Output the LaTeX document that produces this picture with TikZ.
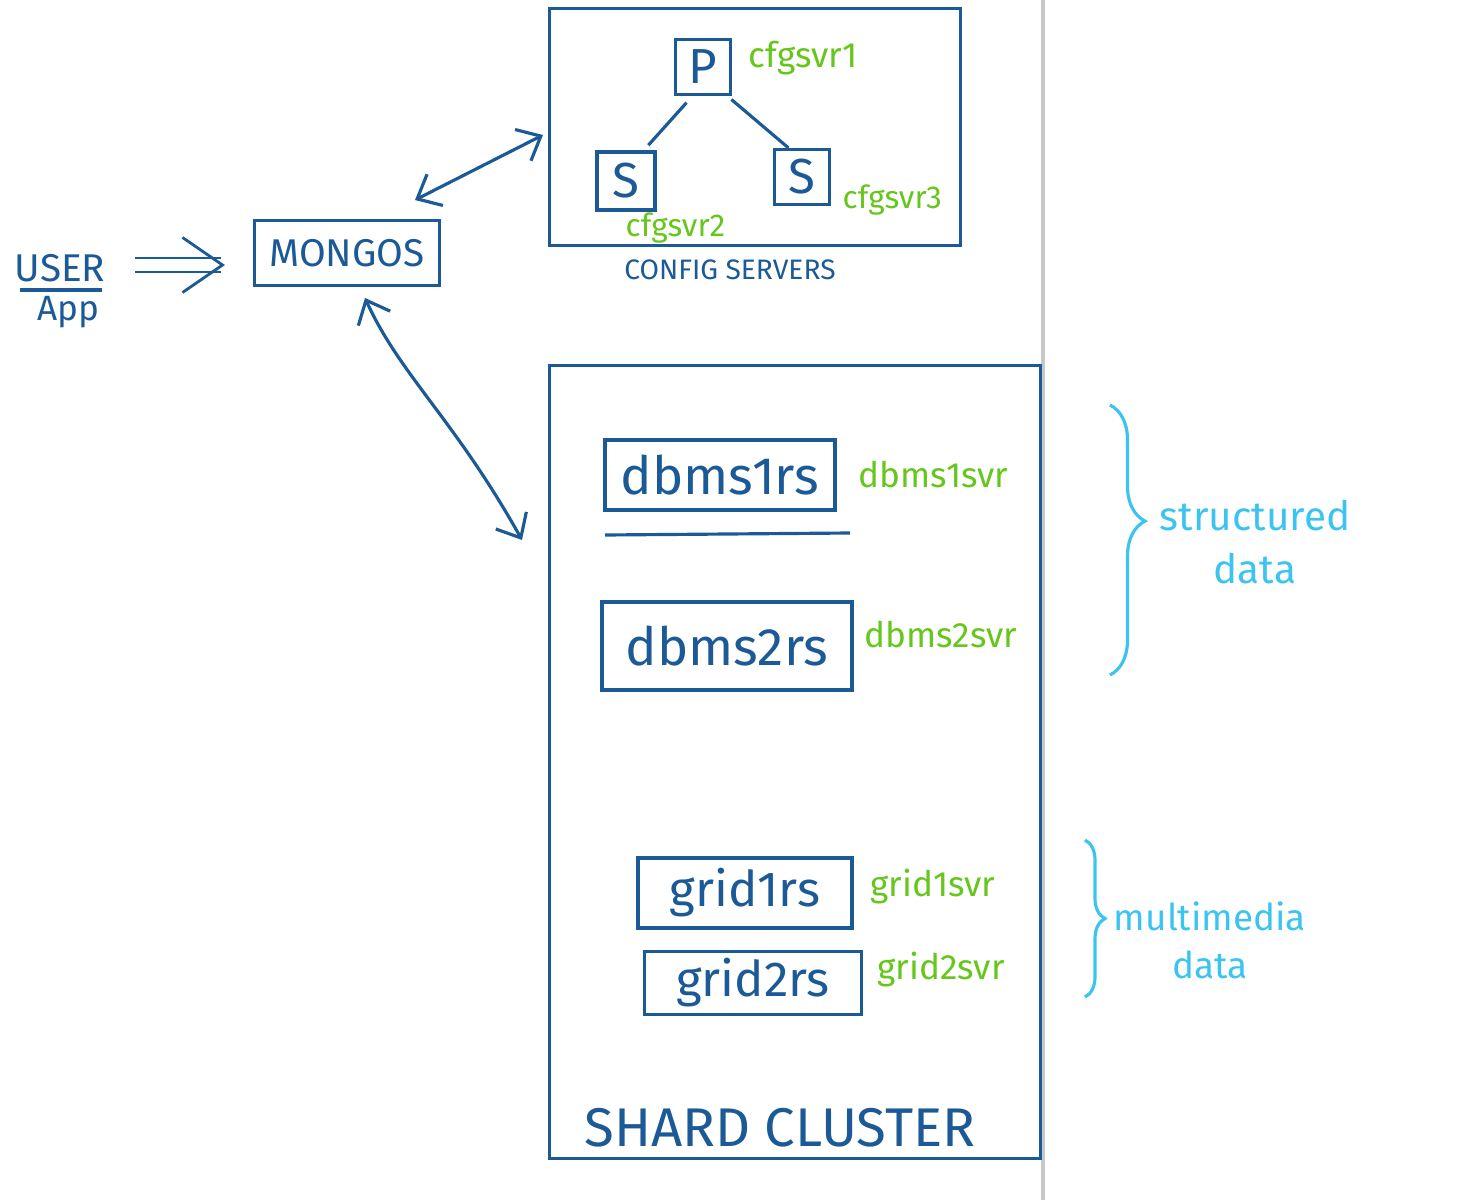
\documentclass[tikz,border=0pt]{standalone}
\usepackage{fontspec}
\setmainfont{Fira Sans}
\usetikzlibrary{arrows.meta,decorations.pathreplacing}
\definecolor{inkblue}{HTML}{1B5A96}
\definecolor{svrgreen}{HTML}{66C61C}
\definecolor{datacyan}{HTML}{3CC4F0}
\definecolor{rulegray}{HTML}{C8C8C8}
\tikzset{
  srvbox/.style={draw=inkblue, line width=0.9pt, text=inkblue, inner sep=0pt},
  svrlabel/.style={text=svrgreen, anchor=west, inner sep=0pt, font=\fontsize{10}{12}\selectfont},
  inklabel/.style={text=inkblue, inner sep=1pt},
  link/.style={draw=inkblue, line width=0.9pt, {Straight Barb[length=2mm,width=3.5mm]}-{Straight Barb[length=2mm,width=3.5mm]}},
  databrace/.style={draw=datacyan, line width=0.9pt, decorate},
  datalabel/.style={text=datacyan, align=center}
}
\begin{document}
\begin{tikzpicture}[x=0.01cm, y=-0.01cm]
  \useasboundingbox (0,0) rectangle (1478,1200);
  \draw[rulegray, line width=1pt] (1043,0) -- (1043,1200);
  % user and router
  \node[inklabel, font=\fontsize{11}{13}\selectfont] (user) at (60,268) {USER};
  \node[inklabel, font=\fontsize{10}{12}\selectfont] (app) at (68,312) {App};
  \draw[inkblue, line width=0.9pt] (20,290) -- (102,290);
  \coordinate (userout) at (135,265);
  \coordinate (mongosin) at (225,265);
  \draw[inkblue, line width=0.8pt, double, double distance=1.1mm, -{Straight Barb[length=4mm,width=5.5mm]}] (userout) -- (mongosin);
  \node[srvbox, minimum width=1.85cm, minimum height=0.65cm, font=\fontsize{11}{13}\selectfont] (mongos) at (347,253) {MONGOS};
  % config servers
  \node[srvbox, minimum width=4.1cm, minimum height=2.37cm] (cfgbox) at (755,127) {};
  \node[inklabel, font=\fontsize{8}{10}\selectfont] (cfgname) at (730,270) {CONFIG SERVERS};
  \node[srvbox, minimum size=0.55cm, font=\fontsize{14}{16}\selectfont] (cfgP) at (703,67) {P};
  \node[srvbox, minimum size=0.58cm, font=\fontsize{14}{16}\selectfont] (cfgSa) at (626,181) {S};
  \node[srvbox, minimum size=0.55cm, font=\fontsize{14}{16}\selectfont] (cfgSb) at (802,177) {S};
  \node[svrlabel] at (748,58) {cfgsvr1};
  \node[svrlabel, font=\fontsize{9}{11}\selectfont] at (625,228) {cfgsvr2};
  \node[svrlabel, font=\fontsize{9}{11}\selectfont] at (842,200) {cfgsvr3};
  \draw[inkblue, line width=0.9pt, shorten <=2.5pt, shorten >=2pt] (cfgP.250) -- (cfgSa.60);
  \draw[inkblue, line width=0.9pt, shorten <=1.5pt] (cfgP.310) -- (cfgSb.115);
  % shard cluster
  \node[srvbox, minimum width=4.9cm, minimum height=7.93cm] (shard) at (795,762) {};
  \node[inklabel, font=\fontsize{15.5}{18}\selectfont] (shardname) at (780,1128) {SHARD CLUSTER};
  \node[srvbox, minimum width=2.3cm, minimum height=0.7cm, font=\fontsize{15}{18}\selectfont] (dbmsA) at (720,475) {dbms1rs};
  \draw[inkblue, line width=0.9pt] (605,535) -- (850,533);
  \node[srvbox, minimum width=2.5cm, minimum height=0.88cm, font=\fontsize{15}{18}\selectfont] (dbmsB) at (727,646) {dbms2rs};
  \node[srvbox, minimum width=2.14cm, minimum height=0.7cm, font=\fontsize{14}{17}\selectfont] (gridA) at (745,893) {grid1rs};
  \node[srvbox, minimum width=2.17cm, minimum height=0.63cm, font=\fontsize{14}{17}\selectfont] (gridB) at (753,983) {grid2rs};
  \node[svrlabel] at (858,475) {dbms1svr};
  \node[svrlabel] at (864,635) {dbms2svr};
  \node[svrlabel] at (870,887) {grid1svr};
  \node[svrlabel] at (877,970) {grid2svr};
  % links from the router
  \coordinate (mgtop) at (415,200);
  \coordinate (cfgin) at (543,135);
  \draw[link] (mgtop) -- (cfgin);
  \coordinate (mgbot) at (365,298);
  \coordinate (shardin) at (522,540);
  \draw[link] (mgbot) .. controls (400,375) and (455,420) .. (shardin);
  % data groups
  \draw[databrace, decoration={brace, amplitude=0.35cm, aspect=0.43}] (1110,405) -- (1110,675);
  \node[datalabel, font=\fontsize{11.5}{15}\selectfont] (structured) at (1255,542) {structured\\data};
  \draw[databrace, decoration={brace, amplitude=0.2cm, aspect=0.5}] (1085,840) -- (1085,997);
  \node[datalabel, font=\fontsize{10.5}{13.6}\selectfont] (multimedia) at (1210,940) {multimedia\\data};
\end{tikzpicture}
\end{document}
